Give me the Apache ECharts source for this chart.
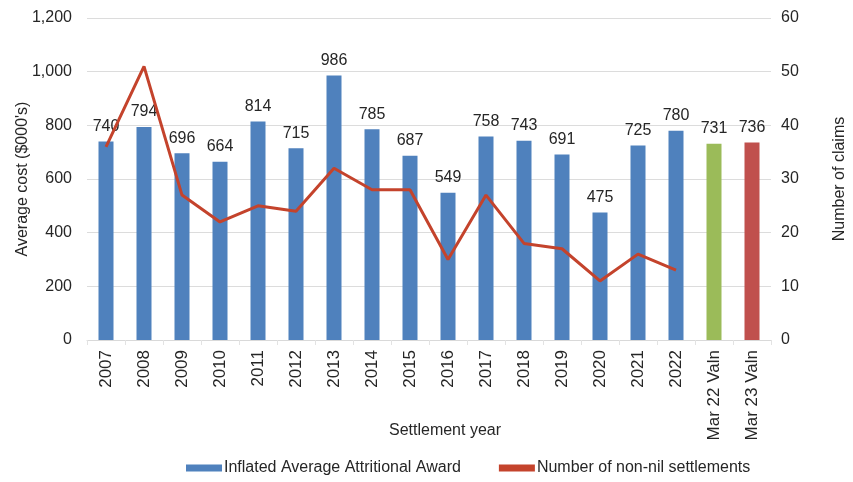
<!DOCTYPE html>
<html>
<head>
<meta charset="utf-8">
<script src="https://cdn.jsdelivr.net/npm/echarts@6/dist/echarts.min.js"></script>
<style>
  html, body { margin: 0; padding: 0; background: #fff; }
  #chart { width: 853px; height: 482px; }
</style>
</head>
<body>
<div id="chart"></div>
<script>
// Settlement years plus the two valuation snapshots
const categories = ['2007', '2008', '2009', '2010', '2011', '2012', '2013', '2014', '2015',
  '2016', '2017', '2018', '2019', '2020', '2021', '2022', 'Mar 22 Valn', 'Mar 23 Valn'];

// Inflated average attritional award ($000's)
const awardValues = [740, 794, 696, 664, 814, 715, 986, 785, 687, 549, 758, 743, 691, 475, 725, 780, 731, 736];

// Number of non-nil settlements (no count for the valuation bars)
const settlementCounts = [36, 51, 27, 22, 25, 24, 32, 28, 28, 15, 27, 18, 17, 11, 16, 13, null, null];

// Bar colours: blue for years, green / red for the valuation bars
const barColors = ['#4F81BD', '#4F81BD', '#4F81BD', '#4F81BD', '#4F81BD', '#4F81BD', '#4F81BD', '#4F81BD', '#4F81BD',
  '#4F81BD', '#4F81BD', '#4F81BD', '#4F81BD', '#4F81BD', '#4F81BD', '#4F81BD', '#9BBB59', '#C0504D'];

const FONT = '"Liberation Sans", Arial, sans-serif';
const TEXT = '#262626';
const LINE_RED = '#C4432C';

const chart = echarts.init(document.getElementById('chart'), null, { renderer: 'canvas' });

chart.setOption({
  animation: false,
  textStyle: { fontFamily: FONT },
  grid: { left: 87, right: 82, top: 18, bottom: 142, containLabel: false, outerBoundsMode: 'none' },
  legend: {
    bottom: 1,
    left: 181,
    itemGap: 38,
    itemWidth: 36,
    itemHeight: 7,
    textStyle: { fontFamily: FONT, fontSize: 16, color: TEXT, padding: [0, 0, 0, -3] },
    data: [
      { name: 'Inflated Average Attritional Award', icon: 'rect', itemStyle: { color: '#4F81BD' } },
      { name: 'Number of non-nil settlements', icon: 'rect', itemStyle: { color: LINE_RED } }
    ]
  },
  xAxis: {
    type: 'category',
    data: categories,
    name: 'Settlement year',
    nameLocation: 'middle',
    nameGap: 83,
    nameMoveOverlap: false,
    nameTextStyle: { fontFamily: FONT, fontSize: 16, color: TEXT, padding: [0, 0, 0, 32] },
    axisLine: { lineStyle: { color: '#d9d9d9' } },
    axisTick: { show: true, length: 5, lineStyle: { color: '#e3e3e3' } },
    axisLabel: { rotate: 90, fontSize: 17, color: TEXT, fontFamily: FONT, margin: 10 }
  },
  yAxis: [
    {
      type: 'value',
      min: 0, max: 1200, interval: 200,
      name: "Average cost ($000's)",
      nameLocation: 'middle',
      nameGap: 56,
      nameRotate: 90,
      nameMoveOverlap: false,
      nameTextStyle: { fontFamily: FONT, fontSize: 16, color: TEXT },
      axisLine: { show: false },
      axisTick: { show: false },
      splitLine: { lineStyle: { color: '#dcdcdc', width: 1 } },
      axisLabel: {
        fontSize: 16, color: TEXT, fontFamily: FONT, margin: 15,
        formatter: v => v.toLocaleString('en-US')
      }
    },
    {
      type: 'value',
      min: 0, max: 60, interval: 10,
      name: 'Number of claims',
      nameLocation: 'middle',
      nameGap: 61,
      nameRotate: 90,
      nameMoveOverlap: false,
      nameTextStyle: { fontFamily: FONT, fontSize: 16, color: TEXT },
      axisLine: { show: false },
      axisTick: { show: false },
      splitLine: { show: false },
      axisLabel: { fontSize: 16, color: TEXT, fontFamily: FONT, margin: 10 }
    }
  ],
  series: [
    {
      name: 'Inflated Average Attritional Award',
      type: 'bar',
      yAxisIndex: 0,
      barWidth: 15,
      data: awardValues.map((v, i) => ({ value: v, itemStyle: { color: barColors[i] } })),
      itemStyle: { color: '#4F81BD' },
      label: {
        show: true, position: 'top', distance: 7,
        fontSize: 16, color: TEXT, fontFamily: FONT
      }
    },
    {
      name: 'Number of non-nil settlements',
      type: 'line',
      yAxisIndex: 1,
      data: settlementCounts,
      symbol: 'none',
      connectNulls: false,
      lineStyle: { color: LINE_RED, width: 3 },
      itemStyle: { color: LINE_RED },
      z: 5
    }
  ]
});
</script>
</body>
</html>
